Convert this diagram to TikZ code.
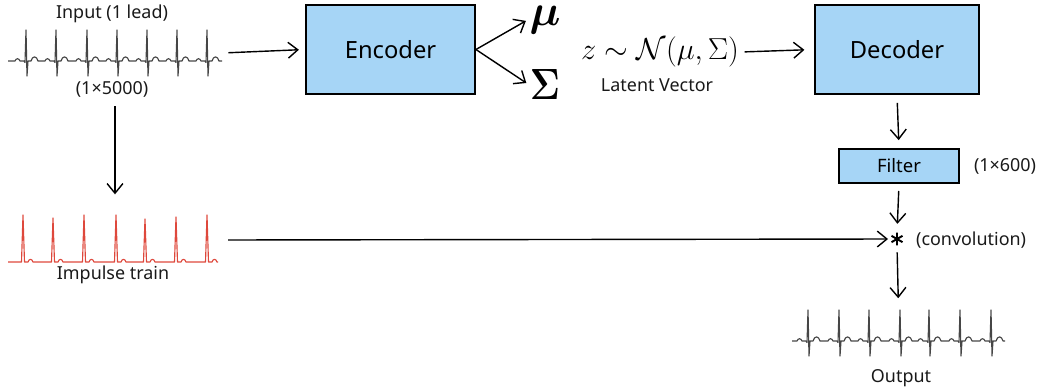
\documentclass[tikz,border=0pt]{standalone}
\usepackage{amsmath,bm,graphicx}
\usepackage{fontspec}
\setmainfont{Noto Sans}
\usetikzlibrary{arrows.meta}

\definecolor{boxblue}{RGB}{166,213,246}
\definecolor{ecggray}{RGB}{70,70,70}
\definecolor{ecgred}{RGB}{222,72,60}

% one ECG lead: start x, end x, baseline y, list of R-peak positions
\newcommand\ecgline[4]{%
  \draw[ecg] (#1,#3) foreach \c in {#4} {
    -- (\c-11,#3) .. controls (\c-10,#3-3) and (\c-7,#3-3) .. (\c-6,#3)
    -- (\c-2,#3) -- (\c-1,#3+1.5) -- (\c,#3-31) -- (\c+1,#3+15) -- (\c+2,#3)
    -- (\c+5,#3) .. controls (\c+6.5,#3-5.5) and (\c+10.5,#3-5.5) .. (\c+12,#3)
  } -- (#2,#3);}

\begin{document}
\begin{tikzpicture}[x=0.02cm,y=-0.02cm,
  flow/.style={-{Straight Barb[length=5.5pt,width=9pt]},line width=0.8pt,black},
  block/.style={draw=black,line width=1.1pt,fill=boxblue,inner sep=0pt,
    font=\fontsize{13.5}{16}\selectfont},
  lbl/.style={font=\fontsize{10.2}{12}\selectfont,text=black!90,inner sep=1pt},
  sigbox/.style={inner sep=0pt},
  ecg/.style={draw=ecggray,line width=0.65pt,line join=round},
  pulse/.style={draw=ecgred,line width=0.65pt,line join=round},
  latmath/.style={inner sep=1pt,font=\fontsize{17.5}{20}\selectfont}]
\useasboundingbox (0,0) rectangle (1043,389);

% ---- input lead ----
\node[sigbox,minimum width=4.28cm,minimum height=0.92cm] (inp) at (115,53) {};
\ecgline{8}{222}{61}{26,56,87,117,147,177,207}
\node[lbl] (inlbl) at (112,14) {Input (1 lead)};
\node[lbl] (insz) at (112,89) {(1×5000)};

% ---- impulse train ----
\node[sigbox,minimum width=4.2cm,minimum height=0.9cm] (imp) at (115,240) {};
\draw[pulse] (8,262) foreach \c/\t in {23/215,53/218,84/215,116/215,145/219,176/217,207/215} {
  -- (\c-1.5,262) -- (\c,\t) -- (\c+1.5,262)
  -- (\c+5,262) .. controls (\c+6,258.5) and (\c+9,258.5) .. (\c+10,262)
} -- (218,262);
\node[lbl] (implbl) at (113,275) {Impulse train};

% ---- encoder and latent ----
\node[block,minimum width=3.38cm,minimum height=1.78cm] (enc) at (390.5,49.5) {Encoder};
\node[inner sep=1pt,font=\fontsize{23}{25}\selectfont] (mu) at (545,20) {$\bm{\mu}$};
\node[inner sep=1pt,font=\fontsize{24}{26}\selectfont] (sg) at (545,84) {\scalebox{0.85}[1]{$\bm{\Sigma}$}};
\node[latmath] (lat) at (660,52) {$z\sim\mathcal{N}(\mu,\Sigma)$};
\node[lbl] (latlbl) at (657,85) {Latent Vector};

% ---- decoder, filter, convolution ----
\node[block,minimum width=3.28cm,minimum height=1.78cm] (dec) at (897,49.5) {Decoder};
\node[block,minimum width=2.4cm,minimum height=0.68cm,font=\fontsize{10.5}{12}\selectfont] (filt) at (899,166) {Filter};
\node[lbl] (fsz) at (1005,166) {(1×600)};
\node[circle,inner sep=0pt,minimum size=0.24cm] (conv) at (897,239) {};
\draw[line width=1.1pt] (conv.90) -- (conv.270) (conv.30) -- (conv.210) (conv.150) -- (conv.330);
\node[lbl,anchor=west] (convlbl) at (914,240) {(convolution)};

% ---- output lead ----
\node[sigbox,minimum width=4.26cm,minimum height=0.9cm] (out) at (898.5,332.5) {};
\ecgline{792}{1005}{341}{808,839,869,900,929,960,991}
\node[lbl] (outlbl) at (901,378) {Output};

% ---- connectors ----
\draw[flow,shorten <=3.5pt,shorten >=3.5pt] (inp.east) -- (enc.west);
\draw[flow,shorten >=1pt] (enc.east) -- (mu.west);
\draw[flow,shorten >=1pt] (enc.east) -- (sg.west);
\draw[flow,shorten <=2pt,shorten >=5.5pt] (lat.east) -- (dec.west);
\draw[flow,shorten <=4.5pt,shorten >=4.5pt] (dec.south) -- (filt.north);
\draw[flow,shorten <=4pt,shorten >=5pt] (filt.south) -- (conv.north);
\draw[flow,shorten <=4.5pt,shorten >=1.5pt] (imp.east) -- (conv.west);
\draw[flow,shorten <=4pt,shorten >=6.5pt] (conv.south) -- (out.north);
\draw[flow,shorten <=4pt,shorten >=13pt] (insz.south -| imp.north) -- (imp.north);
\end{tikzpicture}
\end{document}
